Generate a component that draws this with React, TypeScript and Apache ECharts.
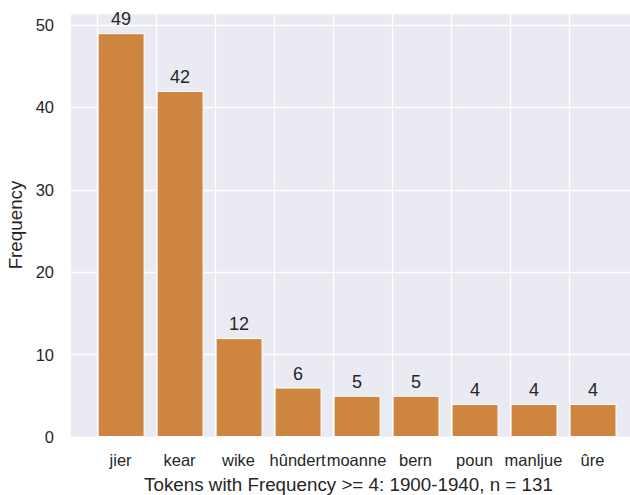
import React, { useEffect, useRef } from "react";
import * as echarts from "echarts";

const categories = ["jier", "kear", "wike", "hûndert", "moanne", "bern", "poun", "manljue", "ûre"];
const frequencies = [49, 42, 12, 6, 5, 5, 4, 4, 4];
const yTicks = [0, 10, 20, 30, 40, 50];

const FONT = "'Liberation Sans', Arial, sans-serif";
const TEXT = "#262626";

export default function App() {
  const ref = useRef<HTMLDivElement>(null);
  useEffect(() => {
    if (!ref.current) return;
    const chart = echarts.init(ref.current, undefined, { renderer: "svg" });
    const idx = categories.map((_, i) => i);
    chart.setOption({
      animation: false,
      textStyle: { fontFamily: FONT },
      grid: {
        left: 71,
        top: 13,
        width: 571,
        height: 424,
        outerBoundsMode: "none",
        containLabel: false,
        show: true,
        backgroundColor: "#EAEAF2",
        borderWidth: 0,
      },
      xAxis: {
        type: "value",
        min: -0.84,
        max: 8.84,
        axisLine: { show: false },
        axisTick: { show: false },
        splitLine: { show: false },
        axisLabel: {
          customValues: idx,
          formatter: (v: number) => categories[Math.round(v)] ?? "",
          color: TEXT,
          fontSize: 16.5,
          margin: 14,
          fontFamily: FONT,
        },
        name: "Tokens with Frequency >= 4: 1900-1940, n = 131",
        nameLocation: "middle",
        nameGap: 38,
        nameTextStyle: { color: TEXT, fontSize: 18.8, fontFamily: FONT, padding: [0, 16, 0, 0] },
      },
      yAxis: {
        type: "value",
        min: 0,
        max: 51.45,
        axisLine: { show: false },
        axisTick: { show: false },
        splitLine: { show: true, lineStyle: { color: "#ffffff", width: 1.3 } },
        axisLabel: {
          customValues: yTicks,
          color: TEXT,
          fontSize: 16.5,
          margin: 17,
          fontFamily: FONT,
        },
        name: "Frequency",
        nameLocation: "middle",
        nameGap: 45,
        nameTextStyle: { color: TEXT, fontSize: 18.8, fontFamily: FONT },
      },
      series: [
        {
          type: "bar",
          data: [],
          z: 1,
          silent: true,
          markLine: {
            silent: true,
            symbol: "none",
            label: { show: false },
            lineStyle: { color: "#ffffff", width: 1.3, type: "solid" },
            data: idx.map((i) => ({ xAxis: i })),
          },
        },
        {
          type: "bar",
          z: 2,
          barWidth: 47,
          data: frequencies.map((v, i) => [i, v]),
          itemStyle: { color: "#CD853F", borderColor: "#ffffff", borderWidth: 1 },
          label: {
            show: true,
            position: "top",
            distance: 5,
            color: TEXT,
            fontSize: 18,
            fontFamily: FONT,
            formatter: (p: any) => String(p.value[1]),
          },
        },
      ],
    });
    return () => chart.dispose();
  }, []);
  return <div ref={ref} style={{ width: 630, height: 495, position: "absolute", left: 0, top: 0 }} />;
}
